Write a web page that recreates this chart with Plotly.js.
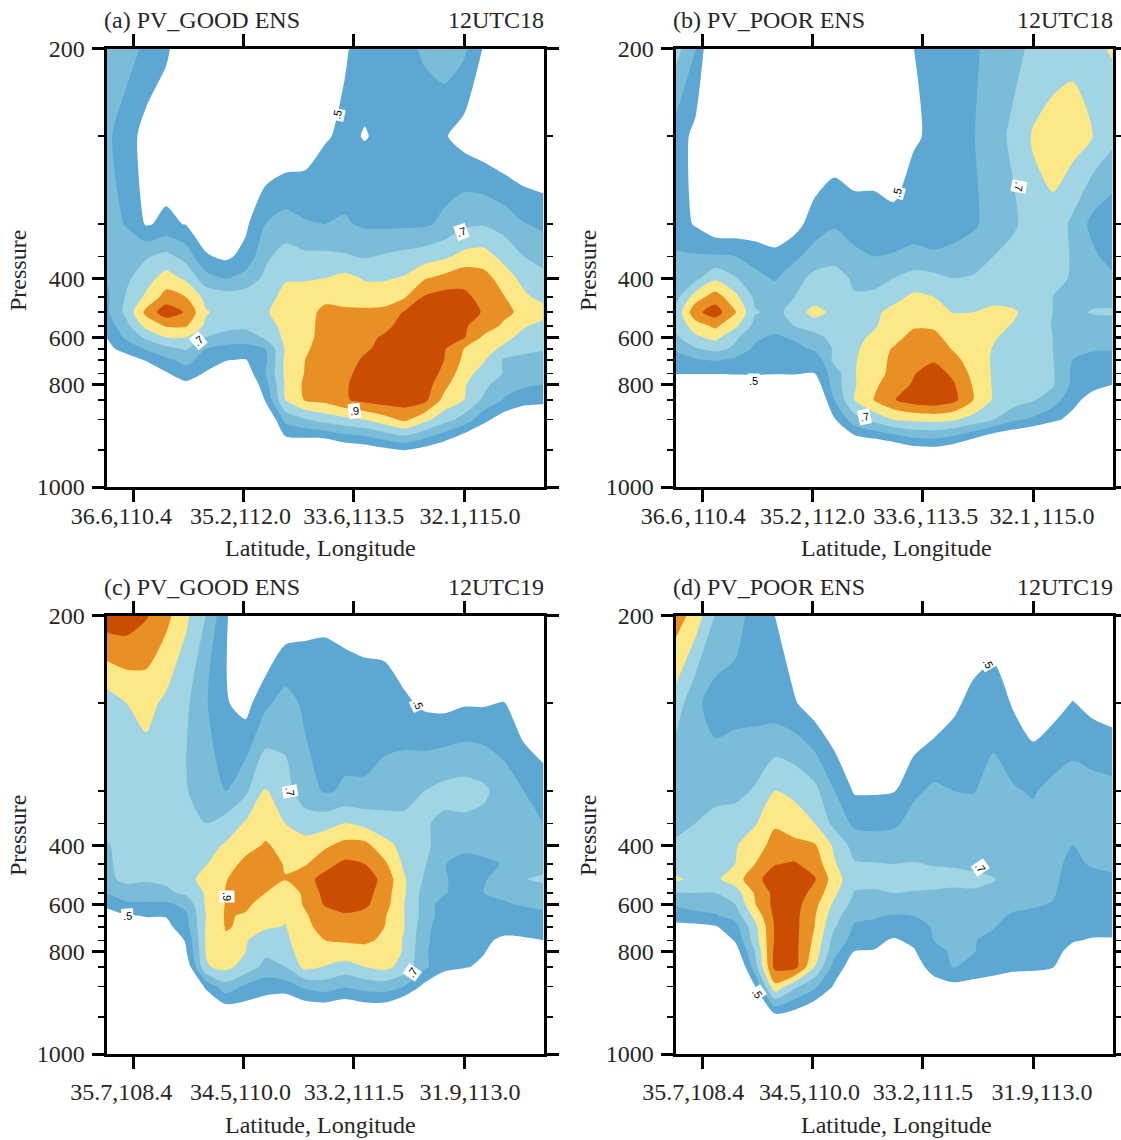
<!DOCTYPE html>
<html><head><meta charset="utf-8">
<script src="https://cdn.plot.ly/plotly-3.0.0.min.js"></script>
<style>html,body{margin:0;padding:0;background:#fff}</style></head>
<body><div id="chart" style="width:1121px;height:1140px"></div>
<script>
const sectionPos=[0,20,40,60,80,100,120,140,160,180,200,220,240,260,280,300,320,340,360,380,400,420,440];
const pressureLevels=[200,250,300,350,400,450,500,550,600,650,700,750,800,850,900,950,1000];
const levelPos=[0,88,176,208.5,230.4,249.3,264.6,278.5,289.8,301.4,312.4,325.9,337.5,352.5,372.5,403,440];
const pressureLabels=[200,400,600,800,1000];
const tickPosX=[27,138,249,360];
const ticksGood18=['36.6,110.4','35.2,112.0','33.6,113.5','32.1,115.0'];
const ticksPoor18=['36.6\u200A,\u200A110.4','35.2\u200A,\u200A112.0','33.6\u200A,\u200A113.5','32.1\u200A,\u200A115.0'];
const ticks19=['35.7,108.4','34.5,110.0','33.2,111.5','31.9,113.0'];
const pvLevels=[.5,.6,.7,.8,.9,1.0];
const bandColors=['#ffffff','#5ca8d2','#7bbcd9','#a1d5e4','#fde888','#e99024','#cb4d02'];

const goodEns18=[
[.67,.64,.58,.52,.42,.35,.3,.3,.3,.32,.35,.4,.49,.54,.56,.58,.61,.66,.62,.49,.4,.35,.3],
[.62,.55,.46,.42,.40,.35,.35,.35,.37,.40,.43,.49,.52,.495,.52,.57,.56,.51,.46,.42,.38,.36,.35],
[.66,.59,.49,.52,.495,.44,.44,.48,.60,.64,.61,.60,.61,.585,.58,.58,.585,.62,.68,.69,.66,.605,.58],
[.67,.68,.69,.73,.66,.51,.48,.53,.68,.74,.72,.72,.71,.69,.71,.73,.75,.78,.83,.84,.77,.70,.66],
[.60,.68,.76,.84,.78,.64,.59,.64,.72,.79,.79,.80,.83,.79,.79,.81,.89,.93,.97,.94,.85,.77,.73],
[.58,.71,.82,.94,.90,.77,.75,.75,.76,.83,.85,.88,.88,.85,.85,.89,1.01,1.04,1.02,.97,.905,.82,.77],
[.58,.73,.93,1.06,.99,.81,.76,.77,.79,.84,.87,.92,.91,.92,.93,1.01,1.05,1.06,1.05,.99,.93,.87,.84],
[.54,.67,.83,.91,.91,.78,.73,.73,.77,.82,.87,.93,.95,.96,.98,1.03,1.06,1.07,1.01,.96,.88,.81,.77],
[.50,.62,.72,.80,.80,.70,.66,.63,.72,.82,.875,.93,.96,.98,1.01,1.05,1.07,1.04,1.01,.88,.83,.77,.75],
[.47,.54,.61,.67,.71,.60,.57,.58,.60,.81,.89,.93,.97,.99,1.02,1.05,1.05,1.01,.90,.84,.78,.74,.71],
[.38,.45,.51,.58,.63,.56,.505,.495,.58,.82,.90,.94,.97,1.01,1.04,1.05,1.03,1.0,.88,.81,.69,.66,.65],
[.3,.34,.42,.49,.56,.49,.45,.44,.6,.82,.905,.94,.98,1.03,1.06,1.07,1.05,.98,.84,.76,.695,.66,.64],
[.25,.28,.33,.42,.47,.42,.40,.38,.56,.81,.92,.95,.99,1.04,1.07,1.08,1.05,.93,.81,.73,.63,.61,.60],
[.2,.22,.27,.34,.38,.36,.33,.32,.51,.80,.91,.93,.99,1.03,1.05,1.05,1.03,.87,.80,.68,.595,.56,.55],
[.15,.17,.2,.25,.28,.27,.25,.25,.35,.63,.69,.74,.77,.80,.86,.92,.83,.74,.66,.53,.44,.36,.33],
[.1,.1,.12,.15,.18,.18,.17,.17,.25,.39,.37,.35,.41,.43,.47,.50,.46,.40,.30,.28,.25,.23,.22],
[.1,.1,.1,.1,.1,.1,.1,.1,.12,.15,.15,.15,.15,.15,.15,.15,.15,.15,.15,.15,.15,.15,.15]];

const poorEns18=[
[.74,.61,.35,.35,.34,.33,.33,.33,.33,.35,.38,.43,.50,.54,.57,.59,.62,.67,.72,.72,.77,.78,.81],
[.56,.47,.40,.36,.34,.33,.33,.38,.42,.40,.40,.41,.49,.515,.57,.595,.66,.72,.81,.87,.85,.80,.73],
[.55,.49,.42,.42,.43,.42,.46,.55,.59,.56,.56,.53,.55,.56,.57,.585,.64,.68,.76,.76,.68,.57,.53],
[.61,.61,.61,.60,.56,.53,.58,.64,.66,.62,.60,.61,.63,.61,.62,.65,.70,.74,.76,.75,.69,.62,.56],
[.62,.67,.78,.71,.63,.59,.66,.73,.75,.68,.67,.70,.74,.73,.70,.71,.75,.76,.77,.76,.68,.66,.62],
[.66,.85,.95,.83,.68,.65,.70,.75,.78,.71,.72,.77,.82,.80,.77,.77,.76,.77,.76,.70,.67,.66,.65],
[.72,.97,1.05,.91,.71,.67,.74,.84,.77,.75,.78,.83,.86,.84,.795,.80,.83,.81,.77,.70,.67,.71,.72],
[.72,.85,.92,.82,.67,.65,.70,.74,.76,.76,.79,.85,.89,.89,.87,.85,.82,.795,.75,.695,.65,.64,.64],
[.68,.78,.83,.72,.62,.58,.62,.67,.73,.77,.82,.87,.93,.92,.87,.85,.81,.77,.74,.70,.66,.62,.62],
[.61,.69,.73,.68,.58,.56,.56,.62,.71,.78,.85,.91,.96,.96,.89,.85,.795,.75,.72,.70,.64,.61,.605],
[.57,.59,.61,.58,.55,.54,.53,.52,.73,.79,.86,.92,.97,.99,.93,.85,.79,.75,.72,.705,.60,.57,.57],
[.505,.505,.505,.51,.515,.51,.51,.50,.65,.795,.86,.93,.995,1.04,.98,.87,.79,.74,.72,.71,.58,.55,.53],
[.42,.42,.42,.42,.42,.40,.41,.43,.65,.79,.88,.96,1.01,1.07,1.01,.89,.79,.74,.72,.71,.58,.53,.50],
[.35,.35,.35,.34,.34,.33,.33,.35,.60,.80,.905,.995,1.05,1.07,1.03,.90,.79,.75,.71,.65,.53,.46,.42],
[.27,.27,.27,.27,.26,.25,.25,.27,.49,.66,.73,.80,.82,.83,.81,.76,.70,.62,.58,.52,.47,.38,.33],
[.2,.2,.2,.2,.2,.2,.2,.2,.25,.34,.36,.39,.45,.46,.42,.34,.25,.25,.2,.2,.2,.2,.2],
[.12,.12,.12,.12,.12,.12,.12,.12,.12,.12,.12,.12,.12,.12,.12,.12,.12,.12,.12,.12,.12,.12,.12]];

const goodEns19=[
[1.06,1.06,1.01,.93,.82,.70,.52,.35,.32,.43,.467,.48,.47,.454,.456,.387,.32,.3,.3,.3,.3,.3,.3],
[.75,.80,.83,.78,.72,.61,.51,.46,.58,.64,.58,.56,.55,.55,.54,.52,.48,.47,.49,.49,.505,.42,.37],
[.74,.74,.74,.73,.71,.62,.60,.68,.81,.74,.64,.59,.61,.61,.64,.67,.70,.73,.74,.72,.65,.60,.56],
[.74,.74,.74,.73,.72,.70,.74,.81,.86,.80,.75,.76,.80,.77,.74,.72,.71,.68,.68,.67,.64,.62,.60],
[.69,.74,.74,.74,.745,.765,.81,.86,.91,.87,.84,.88,.93,.93,.83,.77,.71,.68,.67,.66,.65,.64,.63],
[.68,.74,.74,.74,.76,.795,.85,.93,.96,.89,.89,.97,1.02,1.0,.92,.78,.71,.61,.51,.565,.61,.62,.65],
[.68,.72,.71,.72,.76,.84,.895,.95,.96,.905,.97,1.03,1.07,1.05,.97,.81,.69,.61,.56,.59,.65,.695,.72],
[.60,.66,.66,.68,.72,.81,.905,.95,.90,.84,.92,1.03,1.07,1.04,.95,.81,.66,.61,.55,.60,.62,.64,.65],
[.52,.58,.585,.58,.63,.81,.905,.92,.86,.84,.91,1.01,1.06,1.02,.94,.80,.66,.55,.54,.55,.59,.61,.62],
[.46,.49,.505,.505,.58,.80,.91,.89,.83,.82,.89,.95,.98,.97,.91,.80,.66,.55,.53,.53,.54,.56,.58],
[.42,.44,.46,.47,.56,.81,.905,.89,.815,.795,.88,.93,.95,.95,.90,.80,.64,.53,.52,.52,.52,.53,.55],
[.33,.35,.37,.40,.51,.81,.89,.81,.74,.78,.86,.90,.91,.92,.88,.79,.63,.52,.515,.51,.49,.49,.50],
[.28,.3,.32,.34,.49,.805,.85,.80,.72,.76,.85,.86,.86,.86,.86,.79,.62,.52,.51,.505,.45,.42,.40],
[.22,.23,.25,.28,.41,.79,.83,.76,.67,.70,.83,.795,.76,.80,.83,.76,.62,.53,.51,.48,.38,.33,.3],
[.15,.16,.18,.2,.3,.52,.66,.58,.54,.55,.62,.65,.61,.64,.65,.595,.47,.40,.36,.3,.3,.3,.3],
[.12,.12,.13,.14,.2,.3,.38,.41,.40,.33,.36,.36,.34,.37,.36,.28,.22,.2,.2,.18,.17,.16,.15],
[.1,.1,.1,.1,.1,.1,.1,.1,.1,.1,.1,.1,.1,.1,.1,.1,.1,.1,.1,.1,.1,.1,.1]];

const poorEns19=[
[.95,.86,.695,.63,.57,.50,.40,.33,.3,.3,.3,.3,.3,.32,.36,.42,.43,.34,.3,.3,.3,.3,.3],
[.76,.62,.56,.57,.56,.54,.51,.44,.38,.35,.35,.36,.38,.42,.48,.53,.56,.49,.43,.46,.505,.47,.45],
[.60,.64,.66,.67,.71,.80,.78,.73,.60,.49,.49,.495,.58,.62,.60,.595,.63,.61,.59,.63,.65,.64,.63],
[.66,.70,.74,.75,.79,.89,.84,.80,.67,.58,.57,.58,.64,.65,.65,.65,.65,.64,.63,.65,.66,.66,.66],
[.72,.74,.76,.79,.86,.93,.93,.91,.78,.66,.65,.66,.66,.66,.66,.66,.66,.65,.64,.63,.60,.62,.63],
[.74,.76,.77,.80,.90,.995,1.01,.96,.81,.71,.705,.70,.705,.695,.69,.68,.67,.66,.65,.62,.58,.61,.62],
[.82,.77,.78,.85,.97,1.05,1.06,1.01,.85,.73,.725,.73,.73,.73,.73,.72,.705,.67,.65,.62,.56,.57,.585],
[.695,.70,.70,.75,.91,1.03,1.05,.97,.82,.695,.69,.70,.695,.69,.68,.69,.68,.65,.63,.61,.55,.54,.54],
[.61,.64,.64,.70,.895,1.03,1.04,.93,.78,.67,.66,.67,.66,.66,.65,.65,.65,.62,.61,.595,.53,.52,.52],
[.56,.57,.59,.64,.83,1.02,1.03,.91,.74,.62,.61,.59,.60,.64,.64,.63,.62,.59,.58,.57,.53,.52,.52],
[.46,.47,.49,.56,.77,1.01,1.03,.90,.71,.59,.575,.55,.56,.61,.62,.615,.605,.57,.55,.54,.53,.52,.52],
[.37,.38,.40,.51,.75,1.01,1.03,.88,.66,.565,.52,.49,.52,.60,.62,.605,.58,.56,.54,.53,.505,.495,.495],
[.3,.3,.32,.44,.70,1.03,1.03,.86,.63,.495,.495,.44,.49,.58,.61,.605,.56,.54,.53,.52,.48,.46,.45],
[.22,.22,.24,.33,.66,1.03,1.04,.80,.56,.44,.41,.39,.43,.56,.605,.57,.54,.52,.515,.505,.42,.38,.36],
[.18,.18,.2,.25,.49,.87,.72,.62,.485,.35,.33,.32,.33,.43,.47,.457,.45,.44,.44,.42,.34,.3,.28],
[.12,.12,.14,.17,.3,.45,.43,.36,.3,.25,.2,.2,.2,.2,.2,.2,.2,.2,.2,.2,.2,.2,.2],
[.1,.1,.1,.1,.1,.1,.1,.1,.1,.1,.1,.1,.1,.1,.1,.1,.1,.1,.1,.1,.1,.1,.1]];

const panelNames=['(a) PV_GOOD ENS','(b) PV_POOR ENS','(c) PV_GOOD ENS','(d) PV_POOR ENS'];
const panelTimes=['12UTC18','12UTC18','12UTC19','12UTC19'];
const panelGrids=[goodEns18,poorEns18,goodEns19,poorEns19];
const panelTicks=[ticksGood18,ticksPoor18,ticks19,ticks19];
const panelLeft=[105,674,105,674];
const panelTop=[47,47,614,614];
const tickStandoff=[-7,-7,2,2];
const tickNudge=[[-4,-1,0,2],[-3,0,1,3],[-4,-1,0,2],[-3,-1,0,3]];
const xTitleAt=[[320,548],[896,548],[320,1125],[896,1125]];
const yTitleAt=[[18,271],[588,271],[18,836],[588,836]];
const contourLabels=[
 [0,'.5',337,115,-78],[0,'.7',461,232,-20],[0,'.7',198,341,-40],[0,'.9',354,411,-8],
 [1,'.5',897,193,-75],[1,'.7',1019,186,100],[1,'.5',753,381,0],[1,'.7',864,417,-12],
 [2,'.5',127,916,-5],[2,'.9',227,896,90],[2,'.7',290,791,80],[2,'.5',418,704,65],[2,'.7',412,973,-55],
 [3,'.5',988,663,60],[3,'.7',980,867,55],[3,'.5',757,993,55]];

const W=1121,H=1140,PW=440,PH=440,inset=1.5;
const n=bandColors.length, scale=[];
bandColors.forEach((c,i)=>{scale.push([i/n,c]);scale.push([(i+1)/n,c]);});
const major=levelPos.filter((p,i)=>pressureLabels.includes(pressureLevels[i]));
const minorPos=levelPos.filter((p,i)=>!pressureLabels.includes(pressureLevels[i]));
const serif='"Liberation Serif","Times New Roman",serif', ink='#262626';
const sp=c=>'\u00A0'.repeat(c);
const nudge=(t,s)=>s<0?t+sp(-s):sp(s)+t;
const traces=[], layout={width:W,height:H,margin:{l:0,r:0,t:0,b:0},paper_bgcolor:'#fff',plot_bgcolor:'#fff',showlegend:false,annotations:[],font:{family:serif,color:ink}};
const addText=(text,x,y,anchor,angle,font)=>layout.annotations.push({xref:'paper',yref:'paper',x:x/W,y:1-y/H,xanchor:anchor,yanchor:'middle',showarrow:false,text:text,textangle:angle,font:font});
const bigFont={size:24,color:ink,family:serif};
panelGrids.forEach((z,i)=>{
  const k=i===0?'':String(i+1), L=panelLeft[i], T=panelTop[i];
  traces.push({type:'contour',x:sectionPos,y:levelPos,z:z,xaxis:'x'+k,yaxis:'y'+k,zmin:.4,zmax:1.1,zauto:false,
    colorscale:scale,showscale:false,hoverinfo:'skip',line:{width:0,smoothing:.7},
    contours:{start:pvLevels[0],end:pvLevels[pvLevels.length-1],size:.1,coloring:'fill',showlines:false}});
  layout['xaxis'+k]={domain:[(L+inset)/W,(L+PW-inset)/W],range:[0,PW],anchor:'y'+k,tickmode:'array',tickvals:tickPosX,ticktext:panelTicks[i].map((t,j)=>nudge(t,tickNudge[i][j])),
    ticks:'outside',ticklen:12,tickwidth:3,tickcolor:'#000',linecolor:'#000',linewidth:3,mirror:'ticks',showgrid:false,zeroline:false,tickangle:0,
    tickfont:bigFont,ticklabelstandoff:tickStandoff[i]};
  layout['yaxis'+k]={domain:[1-(T+PH)/H,1-(T+inset)/H],range:[PH,0],anchor:'x'+k,tickmode:'array',tickvals:major,ticktext:pressureLabels.map(String),
    ticks:'outside',ticklen:12,tickwidth:3,tickcolor:'#000',linecolor:'#000',linewidth:3,mirror:'ticks',showgrid:false,zeroline:false,
    tickfont:bigFont,ticklabelstandoff:2,
    minor:{tickmode:'array',tickvals:minorPos,ticks:'outside',ticklen:6,tickwidth:1.5,tickcolor:'#000'}};
  addText(panelNames[i],L-3,T-27,'left',0,bigFont);
  addText(panelTimes[i],L+PW+1,T-27,'right',0,bigFont);
  addText('Latitude, Longitude',xTitleAt[i][0],xTitleAt[i][1],'center',0,bigFont);
  addText('Pressure',yTitleAt[i][0],yTitleAt[i][1],'center',-90,bigFont);
});
contourLabels.forEach(l=>{
  layout.annotations.push({xref:'paper',yref:'paper',x:l[2]/W,y:1-l[3]/H,xanchor:'center',yanchor:'middle',showarrow:false,text:l[1],textangle:l[4],
    bgcolor:'#fff',borderpad:1,font:{size:11,color:'#000',family:'"Liberation Sans",Arial,sans-serif'}});
});
Plotly.newPlot('chart',traces,layout,{displayModeBar:false,staticPlot:true});
</script></body></html>
